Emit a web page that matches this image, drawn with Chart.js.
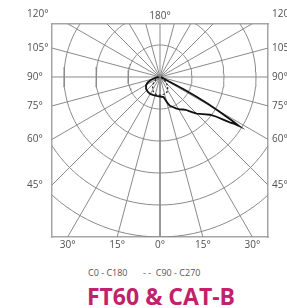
<!DOCTYPE html>
<html>
<head>
<meta charset="utf-8">
<script src="https://cdn.jsdelivr.net/npm/chart.js@4.4.0/dist/chart.umd.min.js"></script>
<style>
  html, body { margin: 0; padding: 0; background: #fff; }
  body { width: 287px; height: 308px; overflow: hidden; position: relative; font-family: 'Open Sans', sans-serif; }
  #chartBox { position: absolute; left: 0; top: 0; width: 287px; height: 255px; }
  .leg { position: absolute; top: 266px; font-size: 9px; color: #555; white-space: nowrap; }
  .title { position: absolute; top: 280px; left: 0; width: 322px; text-align: center; font-size: 23px; font-weight: 700; color: #c2226a; white-space: nowrap; }
</style>
</head>
<body>
<div id="chartBox"><canvas id="polarChart" width="287" height="255"></canvas></div>
<div class="leg" style="left:88px">C0 - C180</div>
<div class="leg" style="left:143px">- -&nbsp;&nbsp;C90 - C270</div>
<div class="title">FT60 &amp; CAT-B</div>

<script>
// ========================================
// DATA (angle from nadir, + = C0 side / right, - = C180 side / left)
// ========================================
const gammaC0 = [-90, -80, -72, -66, -60, -50, -40, -30, -20, -10, 0, 5, 10, 13, 16, 19, 23, 27, 31, 35, 38, 41, 45, 49, 53, 55, 56, 57, 57.8, 58.2, 58.8, 59.9, 60.8, 61.6, 62.5, 63.5, 65, 70, 90];
const cdC0 = [0.05, 0.15, 0.3, 0.42, 0.5, 0.57, 0.6, 0.61, 0.6, 0.6, 0.61, 0.62, 0.64, 0.72, 0.84, 0.95, 1.02, 1.1, 1.18, 1.24, 1.3, 1.42, 1.62, 1.77, 1.96, 2.18, 2.38, 2.6, 2.75, 2.9, 2.65, 2.1, 1.7, 1.3, 0.85, 0.45, 0.2, 0.08, 0.03];

const gammaC90 = [-90, -60, -45, -35, -25, -15, 0, 15, 25, 35, 45, 60, 90];
const cdC90 = [0.02, 0.15, 0.3, 0.4, 0.5, 0.55, 0.57, 0.55, 0.52, 0.42, 0.3, 0.15, 0.02];

// grid
const rings = [1, 2, 3, 4, 5];
const spokeStep = 15;

// tick labels (angles)
const bottomAngles = [-30, -15, 0, 15, 30];
const sideAngles = [120, 105, 90, 75, 60, 45];
const topAngles = [180];

// visible window (ring units)
const X_MAX = 3.375;
const Y_MIN = -5;
const Y_MAX = 1.656;

const GRID_COLOR = '#8a8a8a';
const FRAME_COLOR = '#a5a5a5';
const LABEL_COLOR = '#505050';

// ========================================
// HELPERS
// ========================================
const rad = d => d * Math.PI / 180;

function polarToXY(gammas, values) {
    return gammas.map((g, i) => ({
        x: values[i] * Math.sin(rad(g)),
        y: -values[i] * Math.cos(rad(g))
    }));
}

function ringPoints(r) {
    const pts = [];
    for (let a = 0; a <= 360; a += 3) {
        pts.push({ x: r * Math.sin(rad(a)), y: -r * Math.cos(rad(a)) });
    }
    return pts;
}

function gridDataset(data) {
    return {
        data: data,
        showLine: true,
        borderColor: GRID_COLOR,
        borderWidth: 1,
        pointRadius: 0,
        order: 10
    };
}

const gridSets = [];
rings.forEach(r => gridSets.push(gridDataset(ringPoints(r))));
for (let a = 0; a < 360; a += spokeStep) {
    gridSets.push(gridDataset([
        { x: 0, y: 0 },
        { x: 8 * Math.sin(rad(a)), y: -8 * Math.cos(rad(a)) }
    ]));
}

const bottomVals = bottomAngles.map(a => -Y_MIN * Math.tan(rad(a)));
const sideVals = sideAngles.map(a => -X_MAX / Math.tan(rad(a)));

const tickFont = { family: "'Open Sans', sans-serif", size: 10 };
const noGrid = { display: false, drawTicks: false };
const frame = { display: true, color: FRAME_COLOR, width: 1.5 };

function fixedTicks(values) {
    return scale => {
        scale.ticks = values.map(v => ({ value: v }));
    };
}

// ========================================
// CHART
// ========================================
new Chart(document.getElementById('polarChart'), {
    type: 'scatter',
    data: {
        datasets: [
            {
                label: 'C0 - C180',
                data: polarToXY(gammaC0, cdC0),
                showLine: true,
                borderColor: '#111',
                borderWidth: 1.8,
                pointRadius: 0,
                order: 1
            },
            {
                label: 'C90 - C270',
                data: polarToXY(gammaC90, cdC90),
                showLine: true,
                borderColor: '#222',
                borderWidth: 1.2,
                borderDash: [2, 2],
                pointRadius: 0,
                order: 2
            }
        ].concat(gridSets)
    },
    options: {
        responsive: false,
        animation: false,
        devicePixelRatio: 1,
        layout: { padding: { left: 27, right: 0, top: 0, bottom: 0 } },
        plugins: {
            legend: { display: false },
            tooltip: { enabled: false }
        },
        scales: {
            x: {
                type: 'linear',
                position: 'bottom',
                min: -X_MAX,
                max: X_MAX,
                grid: noGrid,
                border: frame,
                afterBuildTicks: fixedTicks(bottomVals),
                afterFit: s => { s.height = 18; },
                ticks: {
                    autoSkip: false,
                    maxRotation: 0,
                    padding: 2,
                    color: LABEL_COLOR,
                    font: tickFont,
                    callback: (v, i) => Math.abs(bottomAngles[i]) + '°'
                }
            },
            xTop: {
                type: 'linear',
                position: 'top',
                min: -X_MAX,
                max: X_MAX,
                grid: noGrid,
                border: frame,
                afterBuildTicks: fixedTicks([0]),
                afterFit: s => { s.height = 24; },
                ticks: {
                    autoSkip: false,
                    maxRotation: 0,
                    padding: 2,
                    color: LABEL_COLOR,
                    font: tickFont,
                    callback: (v, i) => topAngles[i] + '°'
                }
            },
            y: {
                type: 'linear',
                position: 'left',
                min: Y_MIN,
                max: Y_MAX,
                grid: noGrid,
                border: frame,
                afterBuildTicks: fixedTicks(sideVals),
                afterFit: s => { s.width = 25; },
                ticks: {
                    autoSkip: false,
                    crossAlign: 'far',
                    padding: 0,
                    color: LABEL_COLOR,
                    font: tickFont,
                    callback: (v, i) => sideAngles[i] + '°'
                }
            },
            yRight: {
                type: 'linear',
                position: 'right',
                min: Y_MIN,
                max: Y_MAX,
                grid: noGrid,
                border: frame,
                afterBuildTicks: fixedTicks(sideVals),
                afterFit: s => { s.width = 19; },
                ticks: {
                    autoSkip: false,
                    crossAlign: 'near',
                    padding: 4,
                    color: LABEL_COLOR,
                    font: tickFont,
                    callback: (v, i) => sideAngles[i] + '°'
                }
            }
        }
    }
});
</script>
</body>
</html>
